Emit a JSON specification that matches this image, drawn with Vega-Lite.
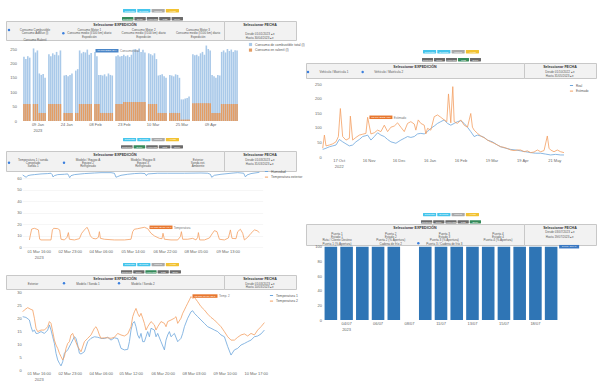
{
"$schema": "https://vega.github.io/schema/vega-lite/v6.json",
"background": "white",
"padding": {"left": 5, "top": 0, "right": 0, "bottom": 0},
"config": {
  "font": "Liberation Sans",
  "view": {"stroke": null},
  "axis": {"labelFontSize": 4, "labelColor": "#666666", "domain": false, "ticks": false, "grid": false, "labelPadding": 1.5, "labelFlush": false},
  "legend": {"labelFontSize": 3.4, "labelColor": "#555555", "symbolSize": 10, "rowPadding": 0.6, "padding": 0, "labelOffset": 2, "symbolStrokeWidth": 1},
  "title": {"fontSize": 3.6, "fontWeight": "bold", "color": "#333333", "anchor": "middle", "frame": "group"}
},
"datasets": {
  "btnP1": [{"r":1,"k":"a","t":"Consultar","c":"cyan"},{"r":1,"k":"b","t":"Exportar","c":"cyan"},{"r":1,"k":"c","t":"Limpiar","c":"lgray"},{"r":1,"k":"d","t":"Ayuda","c":"yellow"},{"r":2,"k":"a","t":"Consumo","c":"green"},{"r":2,"k":"b","t":"Temp.","c":"dgray"},{"r":2,"k":"c","t":"Humedad","c":"dgray"},{"r":2,"k":"d","t":"CO2","c":"dgray"},{"r":2,"k":"e","t":"Ocup.","c":"dgray"}],
  "btnP2": [{"r":1,"k":"a","t":"Consultar","c":"cyan"},{"r":1,"k":"b","t":"Exportar","c":"cyan"},{"r":1,"k":"c","t":"Limpiar","c":"lgray"},{"r":1,"k":"d","t":"Ayuda","c":"yellow"},{"r":2,"k":"a","t":"Consumo","c":"dgray"},{"r":2,"k":"b","t":"Temp.","c":"dgray"},{"r":2,"k":"c","t":"Humedad","c":"dgray"},{"r":2,"k":"d","t":"CO2","c":"green"},{"r":2,"k":"e","t":"Ocup.","c":"dgray"}],
  "btnP3": [{"r":1,"k":"a","t":"Consultar","c":"cyan"},{"r":1,"k":"b","t":"Exportar","c":"cyan"},{"r":1,"k":"c","t":"Limpiar","c":"lgray"},{"r":1,"k":"d","t":"Ayuda","c":"yellow"},{"r":2,"k":"a","t":"Consumo","c":"dgray"},{"r":2,"k":"b","t":"Temp.","c":"green"},{"r":2,"k":"c","t":"Humedad","c":"dgray"},{"r":2,"k":"d","t":"CO2","c":"dgray"},{"r":2,"k":"e","t":"Ocup.","c":"dgray"}],
  "btnP4": [{"r":1,"k":"a","t":"Consultar","c":"cyan"},{"r":1,"k":"b","t":"Exportar","c":"cyan"},{"r":1,"k":"c","t":"Limpiar","c":"lgray"},{"r":1,"k":"d","t":"Ayuda","c":"yellow"},{"r":2,"k":"a","t":"Consumo","c":"dgray"},{"r":2,"k":"b","t":"Temp.","c":"dgray"},{"r":2,"k":"c","t":"Humedad","c":"green"},{"r":2,"k":"d","t":"CO2","c":"dgray"},{"r":2,"k":"e","t":"Ocup.","c":"dgray"}],
  "btnP5": [{"r":1,"k":"a","t":"Consultar","c":"cyan"},{"r":1,"k":"b","t":"Exportar","c":"cyan"},{"r":1,"k":"c","t":"Limpiar","c":"lgray"},{"r":1,"k":"d","t":"Ayuda","c":"yellow"},{"r":2,"k":"a","t":"Consumo","c":"dgray"},{"r":2,"k":"b","t":"Temp.","c":"dgray"},{"r":2,"k":"c","t":"Humedad","c":"dgray"},{"r":2,"k":"d","t":"CO2","c":"dgray"},{"r":2,"k":"e","t":"Ocup.","c":"green"}],
  "p1": [{"i":0,"a":223,"o":59},{"i":1,"a":215,"o":59},{"i":2,"a":225,"o":59},{"i":3,"a":220,"o":59},{"i":5,"a":252,"o":59},{"i":6,"a":238,"o":59},{"i":7,"a":245,"o":59},{"i":8,"a":165,"o":28},{"i":9,"a":160,"o":28},{"i":10,"a":163,"o":28},{"i":11,"a":150,"o":28},{"i":13,"a":232,"o":59},{"i":14,"a":225,"o":59},{"i":15,"a":235,"o":59},{"i":16,"a":230,"o":59},{"i":17,"a":240,"o":59},{"i":18,"a":228,"o":59},{"i":19,"a":245,"o":59},{"i":21,"a":158,"o":28},{"i":22,"a":160,"o":28},{"i":23,"a":155,"o":28},{"i":24,"a":160,"o":28},{"i":25,"a":165,"o":28},{"i":27,"a":175,"o":28},{"i":28,"a":180,"o":28},{"i":29,"a":245,"o":59},{"i":30,"a":235,"o":59},{"i":31,"a":240,"o":59},{"i":32,"a":238,"o":59},{"i":33,"a":248,"o":59},{"i":34,"a":230,"o":59},{"i":35,"a":236,"o":59},{"i":37,"a":240,"o":59},{"i":38,"a":225,"o":59},{"i":39,"a":160,"o":59},{"i":40,"a":160,"o":28},{"i":41,"a":158,"o":28},{"i":42,"a":162,"o":28},{"i":43,"a":155,"o":28},{"i":44,"a":165,"o":28},{"i":45,"a":160,"o":28},{"i":46,"a":158,"o":28},{"i":48,"a":225,"o":59},{"i":49,"a":228,"o":59},{"i":50,"a":224,"o":59},{"i":51,"a":226,"o":59},{"i":52,"a":230,"o":66},{"i":53,"a":225,"o":66},{"i":54,"a":228,"o":66},{"i":55,"a":222,"o":66},{"i":56,"a":230,"o":66},{"i":57,"a":248,"o":66},{"i":58,"a":250,"o":66},{"i":59,"a":245,"o":66},{"i":60,"a":252,"o":66},{"i":61,"a":240,"o":66},{"i":62,"a":247,"o":66},{"i":63,"a":238,"o":66},{"i":65,"a":235,"o":59},{"i":66,"a":232,"o":59},{"i":67,"a":228,"o":59},{"i":68,"a":235,"o":59},{"i":69,"a":215,"o":59},{"i":70,"a":158,"o":28},{"i":71,"a":160,"o":28},{"i":72,"a":162,"o":28},{"i":73,"a":155,"o":28},{"i":74,"a":150,"o":28},{"i":76,"a":160,"o":28},{"i":77,"a":158,"o":28},{"i":78,"a":155,"o":28},{"i":79,"a":162,"o":28},{"i":80,"a":160,"o":28},{"i":81,"a":150,"o":28},{"i":82,"a":75,"o":5},{"i":83,"a":75,"o":5},{"i":84,"a":78,"o":5},{"i":85,"a":80,"o":5},{"i":86,"a":85,"o":5},{"i":88,"a":232,"o":62},{"i":89,"a":228,"o":62},{"i":90,"a":230,"o":62},{"i":91,"a":225,"o":62},{"i":92,"a":235,"o":62},{"i":93,"a":240,"o":62},{"i":94,"a":230,"o":62},{"i":95,"a":262,"o":62},{"i":96,"a":250,"o":62},{"i":97,"a":245,"o":62},{"i":98,"a":160,"o":28},{"i":99,"a":155,"o":28},{"i":100,"a":150,"o":28},{"i":101,"a":160,"o":28},{"i":102,"a":158,"o":28},{"i":103,"a":240,"o":59},{"i":104,"a":245,"o":59},{"i":105,"a":238,"o":59},{"i":106,"a":250,"o":59},{"i":107,"a":243,"o":59},{"i":108,"a":248,"o":59},{"i":109,"a":240,"o":59},{"i":110,"a":246,"o":59},{"i":111,"a":245,"o":59}]
},
"bounds": "flush",
"spacing": 300,
"resolve": {"scale": {"color": "independent"}, "legend": {"color": "independent"}},
"hconcat": [
 {"bounds": "flush", "spacing": 0, "resolve": {"scale": {"color": "independent"}, "legend": {"color": "independent"}}, "vconcat": [
  {"width": 290, "height": 21, "view": {"fill": "white"}, "data": {"name": "btnP1"},
   "layer": [
    {"transform": [{"filter": "datum.r == 1"}], "encoding": {"x": {"field": "k", "type": "nominal", "sort": null, "scale": {"type": "band", "range": [117, 173], "paddingInner": 0.08, "paddingOuter": 0}, "axis": null}, "y": {"field": "r", "type": "ordinal", "scale": {"type": "band", "domain": [1, 2], "range": [9, 20.5], "paddingInner": 0.56, "paddingOuter": 0}, "axis": null}},
     "layer": [
      {"mark": {"type": "rect", "cornerRadius": 0.4}, "encoding": {"color": {"field": "c", "type": "nominal", "scale": {"domain": ["cyan","lgray","yellow","green","dgray"], "range": ["#45c5ec","#a9a9a9","#f2c232","#358a5a","#6b6b6b"]}, "legend": null}}},
      {"mark": {"type": "text", "fontSize": 2.4, "color": "white", "limit": 13}, "encoding": {"text": {"field": "t"}}}
     ]},
    {"transform": [{"filter": "datum.r == 2"}], "encoding": {"x": {"field": "k", "type": "nominal", "sort": null, "scale": {"type": "band", "range": [116, 177], "paddingInner": 0.08, "paddingOuter": 0}, "axis": null}, "y": {"field": "r", "type": "ordinal", "scale": {"type": "band", "domain": [1, 2], "range": [9, 20.5], "paddingInner": 0.56, "paddingOuter": 0}, "axis": null}},
     "layer": [
      {"mark": {"type": "rect", "cornerRadius": 0.4}, "encoding": {"color": {"field": "c", "type": "nominal", "scale": {"domain": ["cyan","lgray","yellow","green","dgray"], "range": ["#45c5ec","#a9a9a9","#f2c232","#358a5a","#6b6b6b"]}, "legend": null}}},
      {"mark": {"type": "text", "fontSize": 2.4, "color": "white", "limit": 11}, "encoding": {"text": {"field": "t"}}}
     ]}
   ],
   "resolve": {"scale": {"x": "independent"}}},
  {"bounds": "flush", "spacing": 0, "hconcat": [
   {"width": 218, "height": 19, "view": {"fill": "#f2f2f2", "stroke": "#c8c8c8"}, "title": {"text": "Seleccionar EXPEDICIÓN", "offset": -5.5},
    "data": {"values": [{"c":0,"r":0,"t":"Consumo Combustible","dot":true},{"c":0,"r":1,"t":"Consumo AdBlue (l)"},{"c":0,"r":3,"t":"Consumo Ralentí"},{"c":1,"r":0,"t":"Consumo Motor 1"},{"c":1,"r":1,"t":"Consumo medio (l/100 km) diario","dot":true},{"c":1,"r":2,"t":"Expedición"},{"c":2,"r":0,"t":"Consumo Motor 2"},{"c":2,"r":1,"t":"Consumo medio (l/100 km) diario"},{"c":2,"r":2,"t":"Expedición"},{"c":3,"r":0,"t":"Consumo Motor 3"},{"c":3,"r":1,"t":"Consumo medio (l/100 km) diario"},{"c":3,"r":2,"t":"Expedición"}]},
    "encoding": {"x": {"field": "c", "type": "ordinal", "scale": {"type": "point", "domain": [0,1,2,3], "range": [29, 192], "padding": 0}, "axis": null}, "y": {"field": "r", "type": "ordinal", "scale": {"type": "point", "domain": [0,1,2,3], "range": [9, 18.6], "padding": 0}, "axis": null}},
    "layer": [
     {"mark": {"type": "text", "fontSize": 3, "color": "#555555"}, "encoding": {"text": {"field": "t"}}},
     {"transform": [{"filter": "datum.dot"}], "mark": {"type": "circle", "size": 6, "opacity": 1, "color": "#3b7fdd", "xOffset": -26}}
    ]},
   {"width": 72, "height": 19, "view": {"fill": "#f2f2f2", "stroke": "#c8c8c8"}, "title": {"text": "Seleccionar FECHA", "offset": -5.5},
    "data": {"values": [{"k":"a","r":0,"t":"Desde  01/01/2023  ▴▾"},{"k":"a","r":1,"t":"Hasta  30/04/2023  ▴▾"}]},
    "mark": {"type": "text", "fontSize": 3, "color": "#555555"},
    "encoding": {"x": {"field": "k", "type": "nominal", "scale": {"type": "point"}, "axis": null}, "y": {"field": "r", "type": "ordinal", "scale": {"type": "point", "domain": [0,1], "range": [12.3, 16.3], "padding": 0}, "axis": null}, "text": {"field": "t"}}}
  ]},
  {"width": 1, "height": 20, "data": {"values": []}, "mark": "point"},
  {"width": 290, "height": 80, "data": {"name": "p1"},
   "encoding": {"x": {"field": "i", "type": "quantitative", "title": null, "scale": {"domain": [-0.5, 111.5], "range": [12, 237], "nice": false, "zero": false}, "axis": {"values": [7,22,37,52,67,82,97], "labelExpr": "datum.value == 7 ? [timeFormat(datetime(2023,0,2+datum.value),'%d %b'), '2023'] : timeFormat(datetime(2023,0,2+datum.value),'%d %b')"}},
     "y": {"field": "value", "type": "quantitative", "title": null, "stack": null, "scale": {"domain": [0, 250], "range": [80, 8], "nice": false}, "axis": {"values": [0,50,100,150,200,250], "offset": -12}}},
   "layer": [
    {"transform": [{"fold": ["a", "o"]}], "mark": {"type": "bar", "width": 1.6},
     "encoding": {"color": {"field": "key", "type": "nominal", "scale": {"domain": ["a","o"], "range": ["#a9c9e9","#e39d65"]}, "legend": {"orient": "none", "legendX": 242, "legendY": 1, "title": null, "symbolType": "square", "labelExpr": "datum.label == 'a' ? 'Consumo de combustible total (l)' : 'Consumo en ralentí (l)'"}}}},
    {"data": {"values": [{"i": 37, "value": 244}]}, "layer": [
     {"mark": {"type": "tick", "orient": "horizontal", "size": 23, "thickness": 3.5, "color": "#4a86c8", "opacity": 1, "xOffset": 12}},
     {"mark": {"type": "text", "fontSize": 2.5, "color": "white", "dx": 12}, "encoding": {"text": {"value": "06 feb 2023: 244"}}},
     {"mark": {"type": "text", "fontSize": 3, "color": "#777777", "align": "left", "dx": 25}, "encoding": {"text": {"value": "Consumo total"}}}
    ]}
   ]},
  {"width": 290, "height": 30, "data": {"name": "btnP3"},
   "layer": [
    {"transform": [{"filter": "datum.r == 1"}], "encoding": {"x": {"field": "k", "type": "nominal", "sort": null, "scale": {"type": "band", "range": [117, 173], "paddingInner": 0.08, "paddingOuter": 0}, "axis": null}, "y": {"field": "r", "type": "ordinal", "scale": {"type": "band", "domain": [1, 2], "range": [17, 27.5], "paddingInner": 0.56, "paddingOuter": 0}, "axis": null}},
     "layer": [
      {"mark": {"type": "rect", "cornerRadius": 0.4}, "encoding": {"color": {"field": "c", "type": "nominal", "scale": {"domain": ["cyan","lgray","yellow","green","dgray"], "range": ["#45c5ec","#a9a9a9","#f2c232","#358a5a","#6b6b6b"]}, "legend": null}}},
      {"mark": {"type": "text", "fontSize": 2.4, "color": "white", "limit": 13}, "encoding": {"text": {"field": "t"}}}
     ]},
    {"transform": [{"filter": "datum.r == 2"}], "encoding": {"x": {"field": "k", "type": "nominal", "sort": null, "scale": {"type": "band", "range": [115, 177], "paddingInner": 0.08, "paddingOuter": 0}, "axis": null}, "y": {"field": "r", "type": "ordinal", "scale": {"type": "band", "domain": [1, 2], "range": [17, 27.5], "paddingInner": 0.56, "paddingOuter": 0}, "axis": null}},
     "layer": [
      {"mark": {"type": "rect", "cornerRadius": 0.4}, "encoding": {"color": {"field": "c", "type": "nominal", "scale": {"domain": ["cyan","lgray","yellow","green","dgray"], "range": ["#45c5ec","#a9a9a9","#f2c232","#358a5a","#6b6b6b"]}, "legend": null}}},
      {"mark": {"type": "text", "fontSize": 2.4, "color": "white", "limit": 11}, "encoding": {"text": {"field": "t"}}}
     ]}
   ],
   "resolve": {"scale": {"x": "independent"}}},
  {"bounds": "flush", "spacing": 0, "hconcat": [
   {"width": 218, "height": 20, "view": {"fill": "#f2f2f2", "stroke": "#c8c8c8"}, "title": {"text": "Seleccionar EXPEDICIÓN", "offset": -5.5},
    "data": {"values": [{"c":0,"r":0,"t":"Temperatura 1 / sonda"},{"c":0,"r":1,"t":"Congelado","dot":true},{"c":0,"r":2,"t":"Sonda 1"},{"c":1,"r":0,"t":"Modelo / Equipo A"},{"c":1,"r":1,"t":"Equipo 2","dot":true},{"c":1,"r":2,"t":"Refrigerado"},{"c":2,"r":0,"t":"Modelo / Equipo B"},{"c":2,"r":1,"t":"Equipo 3"},{"c":2,"r":2,"t":"Refrigerado"},{"c":3,"r":0,"t":"Exterior"},{"c":3,"r":1,"t":"Sonda ext."},{"c":3,"r":2,"t":"Ambiente"}]},
    "encoding": {"x": {"field": "c", "type": "ordinal", "scale": {"type": "point", "domain": [0,1,2,3], "range": [27, 192], "padding": 0}, "axis": null}, "y": {"field": "r", "type": "ordinal", "scale": {"type": "point", "domain": [0,1,2,3], "range": [8.3, 18.5], "padding": 0}, "axis": null}},
    "layer": [
     {"mark": {"type": "text", "fontSize": 3, "color": "#555555"}, "encoding": {"text": {"field": "t"}}},
     {"transform": [{"filter": "datum.dot"}], "mark": {"type": "circle", "size": 6, "opacity": 1, "color": "#3b7fdd", "xOffset": -24}}
    ]},
   {"width": 72, "height": 20, "view": {"fill": "#f2f2f2", "stroke": "#c8c8c8"}, "title": {"text": "Seleccionar FECHA", "offset": -5.5},
    "data": {"values": [{"k":"a","r":0,"t":"Desde  01/03/2023  ▴▾"},{"k":"a","r":1,"t":"Hasta  31/03/2023  ▴▾"}]},
    "mark": {"type": "text", "fontSize": 3, "color": "#555555"},
    "encoding": {"x": {"field": "k", "type": "nominal", "scale": {"type": "point"}, "axis": null}, "y": {"field": "r", "type": "ordinal", "scale": {"type": "point", "domain": [0,1], "range": [8.7, 12.7], "padding": 0}, "axis": null}, "text": {"field": "t"}}}
  ]},
  {"width": 1, "height": 20, "data": {"values": []}, "mark": "point"},
  {"width": 290, "height": 77,
   "encoding": {"x": {"field": "t", "type": "quantitative", "title": null, "scale": {"domain": [0, 240], "range": [16.7, 256.7], "nice": false, "zero": false}, "axis": {"values": [16,47,78,110,142,173,205], "labelExpr": "datum.value == 16 ? [timeFormat(datetime(2023,2,1,datum.value),'%d %b %H:%M'), '2023'] : timeFormat(datetime(2023,2,1,datum.value),'%d %b %H:%M')"}},
     "y": {"field": "v", "type": "quantitative", "title": null, "scale": {"domain": [0, 60], "range": [76.3, 7.3], "nice": false}, "axis": {"values": [0,10,20,30,40,50,60], "offset": -16.7, "grid": true, "gridColor": "#ececec", "gridWidth": 0.5}}},
   "layer": [
    {"data": {"values": [
      {"s":"a","t":0,"v":62.9},{"s":"a","t":2.3,"v":61.5},{"s":"a","t":3.7,"v":60.9},{"s":"a","t":5,"v":62.3},{"s":"a","t":8.3,"v":62.9},{"s":"a","t":11.7,"v":63.2},{"s":"a","t":18.3,"v":63.8},{"s":"a","t":25,"v":64.1},{"s":"a","t":28.3,"v":64.4},{"s":"a","t":29.3,"v":63.5},{"s":"a","t":30.3,"v":61.2},{"s":"a","t":31.7,"v":62.3},{"s":"a","t":35,"v":63.2},{"s":"a","t":41.7,"v":63.5},{"s":"a","t":45,"v":63.8},{"s":"a","t":46,"v":62.3},{"s":"a","t":47,"v":60.6},{"s":"a","t":48.3,"v":62.3},{"s":"a","t":51.7,"v":63.2},{"s":"a","t":61.7,"v":64.1},{"s":"a","t":71.7,"v":64.6},{"s":"a","t":78.3,"v":64.9},{"s":"a","t":88.3,"v":64.9},{"s":"a","t":91.7,"v":64.4},{"s":"a","t":93.3,"v":60.9},{"s":"a","t":95,"v":61.5},{"s":"a","t":98.3,"v":62.6},{"s":"a","t":105,"v":63.5},{"s":"a","t":111.7,"v":64.1},{"s":"a","t":118.3,"v":64.4},{"s":"a","t":122.3,"v":64.1},{"s":"a","t":123.7,"v":62.3},{"s":"a","t":125,"v":63.8},{"s":"a","t":135,"v":64.4},{"s":"a","t":145,"v":64.4},{"s":"a","t":161.7,"v":64.4},{"s":"a","t":178.3,"v":64.6},{"s":"a","t":185,"v":64.4},{"s":"a","t":187.7,"v":63.5},{"s":"a","t":189,"v":60.9},{"s":"a","t":191.7,"v":62.6},{"s":"a","t":198.3,"v":63.5},{"s":"a","t":208.3,"v":64.4},{"s":"a","t":215,"v":64.9},{"s":"a","t":221,"v":64.4},{"s":"a","t":222.7,"v":61.2},{"s":"a","t":224.3,"v":62.9},{"s":"a","t":228.3,"v":64.1},{"s":"a","t":236.7,"v":65.2},
      {"s":"b","t":6.7,"v":6.4},{"s":"b","t":7.7,"v":10.7},{"s":"b","t":9,"v":15.9},{"s":"b","t":11.7,"v":16.5},{"s":"b","t":14.3,"v":15.7},{"s":"b","t":15.7,"v":15.1},{"s":"b","t":17,"v":7},{"s":"b","t":18.3,"v":6.4},{"s":"b","t":28.3,"v":6.4},{"s":"b","t":29.7,"v":15.1},{"s":"b","t":31,"v":16.5},{"s":"b","t":35,"v":16.2},{"s":"b","t":37,"v":15.1},{"s":"b","t":38.3,"v":7},{"s":"b","t":41.7,"v":6.4},{"s":"b","t":44.3,"v":8.7},{"s":"b","t":45.7,"v":12.8},{"s":"b","t":46.7,"v":7},{"s":"b","t":51.7,"v":6.4},{"s":"b","t":56.7,"v":7.5},{"s":"b","t":59,"v":12.2},{"s":"b","t":61.7,"v":15.1},{"s":"b","t":64.3,"v":17.4},{"s":"b","t":65.7,"v":15.1},{"s":"b","t":67.7,"v":9.9},{"s":"b","t":70,"v":7.8},{"s":"b","t":73.3,"v":7.3},{"s":"b","t":75.7,"v":8.7},{"s":"b","t":76.7,"v":13.6},{"s":"b","t":77.7,"v":7.8},{"s":"b","t":81.7,"v":7},{"s":"b","t":91.7,"v":6.4},{"s":"b","t":101.7,"v":6.4},{"s":"b","t":108.3,"v":7},{"s":"b","t":110,"v":13.6},{"s":"b","t":111.7,"v":15.7},{"s":"b","t":115,"v":16.2},{"s":"b","t":118.3,"v":16.8},{"s":"b","t":121.7,"v":17.4},{"s":"b","t":125,"v":16.2},{"s":"b","t":128.3,"v":12.2},{"s":"b","t":131.7,"v":9.9},{"s":"b","t":136.7,"v":7.8},{"s":"b","t":139.3,"v":7.5},{"s":"b","t":140.3,"v":12.2},{"s":"b","t":141.7,"v":7},{"s":"b","t":148.3,"v":6.4},{"s":"b","t":155,"v":6.4},{"s":"b","t":157.7,"v":9.3},{"s":"b","t":158.7,"v":13.6},{"s":"b","t":160,"v":7},{"s":"b","t":165,"v":7},{"s":"b","t":170,"v":7.8},{"s":"b","t":173.3,"v":6.4},{"s":"b","t":175,"v":8.7},{"s":"b","t":175.7,"v":12.8},{"s":"b","t":177,"v":6.4},{"s":"b","t":181.7,"v":6.4},{"s":"b","t":186.7,"v":8.1},{"s":"b","t":189.3,"v":11.6},{"s":"b","t":191.7,"v":14.5},{"s":"b","t":194.3,"v":13.6},{"s":"b","t":196.7,"v":7},{"s":"b","t":201.7,"v":6.4},{"s":"b","t":205.7,"v":8.1},{"s":"b","t":207.7,"v":15.1},{"s":"b","t":209.3,"v":7.8},{"s":"b","t":213.3,"v":7.5},{"s":"b","t":215,"v":13.6},{"s":"b","t":217.7,"v":15.7},{"s":"b","t":220,"v":12.2},{"s":"b","t":221.7,"v":6.4},{"s":"b","t":225,"v":8.7},{"s":"b","t":228.3,"v":12.2},{"s":"b","t":231.7,"v":15.1},{"s":"b","t":234.3,"v":14.5},{"s":"b","t":236.7,"v":12.8}
     ]},
     "mark": {"type": "line", "strokeWidth": 0.8},
     "encoding": {"color": {"field": "s", "type": "nominal", "scale": {"domain": ["a","b"], "range": ["#6ca6dc","#f4a062"]}, "legend": {"orient": "none", "legendX": 258, "legendY": -2, "title": null, "labelExpr": "datum.label == 'a' ? 'Humedad' : 'Temperatura exterior'"}}}},
    {"data": {"values": [{"t": 125, "v": 17.4}]}, "layer": [
     {"mark": {"type": "tick", "orient": "horizontal", "size": 23, "thickness": 3.5, "color": "#e8772e", "opacity": 1, "xOffset": 13.3}},
     {"mark": {"type": "text", "fontSize": 2.5, "color": "white", "dx": 13.3}, "encoding": {"text": {"value": "06 mar 05:00: 17,4"}}},
     {"mark": {"type": "text", "fontSize": 3, "color": "#777777", "align": "left", "dx": 26}, "encoding": {"text": {"value": "Temperatura"}}}
    ]}
   ]},
  {"width": 290, "height": 27, "data": {"name": "btnP4"},
   "layer": [
    {"transform": [{"filter": "datum.r == 1"}], "encoding": {"x": {"field": "k", "type": "nominal", "sort": null, "scale": {"type": "band", "range": [117, 173], "paddingInner": 0.08, "paddingOuter": 0}, "axis": null}, "y": {"field": "r", "type": "ordinal", "scale": {"type": "band", "domain": [1, 2], "range": [15, 25.5], "paddingInner": 0.56, "paddingOuter": 0}, "axis": null}},
     "layer": [
      {"mark": {"type": "rect", "cornerRadius": 0.4}, "encoding": {"color": {"field": "c", "type": "nominal", "scale": {"domain": ["cyan","lgray","yellow","green","dgray"], "range": ["#45c5ec","#a9a9a9","#f2c232","#358a5a","#6b6b6b"]}, "legend": null}}},
      {"mark": {"type": "text", "fontSize": 2.4, "color": "white", "limit": 13}, "encoding": {"text": {"field": "t"}}}
     ]},
    {"transform": [{"filter": "datum.r == 2"}], "encoding": {"x": {"field": "k", "type": "nominal", "sort": null, "scale": {"type": "band", "range": [115, 175], "paddingInner": 0.08, "paddingOuter": 0}, "axis": null}, "y": {"field": "r", "type": "ordinal", "scale": {"type": "band", "domain": [1, 2], "range": [15, 25.5], "paddingInner": 0.56, "paddingOuter": 0}, "axis": null}},
     "layer": [
      {"mark": {"type": "rect", "cornerRadius": 0.4}, "encoding": {"color": {"field": "c", "type": "nominal", "scale": {"domain": ["cyan","lgray","yellow","green","dgray"], "range": ["#45c5ec","#a9a9a9","#f2c232","#358a5a","#6b6b6b"]}, "legend": null}}},
      {"mark": {"type": "text", "fontSize": 2.4, "color": "white", "limit": 11}, "encoding": {"text": {"field": "t"}}}
     ]}
   ],
   "resolve": {"scale": {"x": "independent"}}},
  {"bounds": "flush", "spacing": 0, "hconcat": [
   {"width": 218, "height": 14, "view": {"fill": "#f2f2f2", "stroke": "#c8c8c8"}, "title": {"text": "Seleccionar EXPEDICIÓN", "offset": -5.5},
    "data": {"values": [{"c":0,"r":0,"t":"Exterior"},{"c":1,"r":0,"t":"Modelo / Sonda 1","dot":true},{"c":2,"r":0,"t":"Modelo / Sonda 2","dot":true}]},
    "encoding": {"x": {"field": "c", "type": "ordinal", "scale": {"type": "point", "domain": [0,1,2,3], "range": [27, 192], "padding": 0}, "axis": null}, "y": {"field": "r", "type": "ordinal", "scale": {"type": "point", "domain": [0,1], "range": [8.3, 12], "padding": 0}, "axis": null}},
    "layer": [
     {"mark": {"type": "text", "fontSize": 3, "color": "#555555"}, "encoding": {"text": {"field": "t"}}},
     {"transform": [{"filter": "datum.dot"}], "mark": {"type": "circle", "size": 6, "opacity": 1, "color": "#3b7fdd", "xOffset": -24}}
    ]},
   {"width": 72, "height": 14, "view": {"fill": "#f2f2f2", "stroke": "#c8c8c8"}, "title": {"text": "Seleccionar FECHA", "offset": -5.5},
    "data": {"values": [{"k":"a","r":0,"t":"Desde  01/03/2023  ▴▾"},{"k":"a","r":1,"t":"Hasta  10/03/2023  ▴▾"}]},
    "mark": {"type": "text", "fontSize": 3, "color": "#555555"},
    "encoding": {"x": {"field": "k", "type": "nominal", "scale": {"type": "point"}, "axis": null}, "y": {"field": "r", "type": "ordinal", "scale": {"type": "point", "domain": [0,1], "range": [8.3, 11.7], "padding": 0}, "axis": null}, "text": {"field": "t"}}}
  ]},
  {"width": 1, "height": 14, "data": {"values": []}, "mark": "point"},
  {"width": 290, "height": 81,
   "encoding": {"x": {"field": "t", "type": "quantitative", "title": null, "scale": {"domain": [0, 242], "range": [16.7, 258.7], "nice": false, "zero": false}, "axis": {"values": [16,47,78,108,140,171,202,233], "labelExpr": "datum.value == 16 ? [timeFormat(datetime(2023,2,1,datum.value),'%d %b %H:%M'), '2023'] : timeFormat(datetime(2023,2,1,datum.value),'%d %b %H:%M')"}},
     "y": {"field": "v", "type": "quantitative", "title": null, "scale": {"domain": [0, 30], "range": [81, 3.7], "nice": false}, "axis": {"values": [0,5,10,15,20,25,30], "offset": -16.7}}},
   "layer": [
    {"data": {"values": [
      {"s":"a","t":0,"v":20.7},{"s":"a","t":3.3,"v":20.4},{"s":"a","t":6.7,"v":19.4},{"s":"a","t":8.3,"v":16.8},{"s":"a","t":10,"v":14.9},{"s":"a","t":11.7,"v":15.5},{"s":"a","t":13.3,"v":14.2},{"s":"a","t":15,"v":14.2},{"s":"a","t":18.3,"v":14.9},{"s":"a","t":21.7,"v":14.2},{"s":"a","t":25,"v":15.5},{"s":"a","t":26.7,"v":17.5},{"s":"a","t":28.3,"v":15.5},{"s":"a","t":30,"v":12.9},{"s":"a","t":31.7,"v":10.3},{"s":"a","t":33.3,"v":6.5},{"s":"a","t":35,"v":3.9},{"s":"a","t":36.7,"v":2.6},{"s":"a","t":38.3,"v":1.6},{"s":"a","t":40,"v":3.2},{"s":"a","t":41.7,"v":6.5},{"s":"a","t":45,"v":7.8},{"s":"a","t":48.3,"v":10.3},{"s":"a","t":51.7,"v":12.9},{"s":"a","t":53.3,"v":12.3},{"s":"a","t":55,"v":9.7},{"s":"a","t":56.7,"v":6.5},{"s":"a","t":58.3,"v":6.2},{"s":"a","t":61.7,"v":7.1},{"s":"a","t":63.3,"v":9.1},{"s":"a","t":65,"v":11},{"s":"a","t":68.3,"v":12.3},{"s":"a","t":71.7,"v":12.9},{"s":"a","t":75,"v":12.7},{"s":"a","t":78.3,"v":12.3},{"s":"a","t":81.7,"v":12.2},{"s":"a","t":85,"v":12.7},{"s":"a","t":88.3,"v":11.6},{"s":"a","t":91.7,"v":12.5},{"s":"a","t":95,"v":12.2},{"s":"a","t":96.7,"v":10.3},{"s":"a","t":98.3,"v":8.4},{"s":"a","t":101.7,"v":7.8},{"s":"a","t":105,"v":8},{"s":"a","t":106.7,"v":11},{"s":"a","t":108.3,"v":15.5},{"s":"a","t":110,"v":18.1},{"s":"a","t":111.7,"v":18.8},{"s":"a","t":113.3,"v":16.8},{"s":"a","t":115,"v":13.6},{"s":"a","t":116.7,"v":12.3},{"s":"a","t":118.3,"v":14.2},{"s":"a","t":120,"v":11},{"s":"a","t":121.7,"v":11},{"s":"a","t":123.3,"v":12.9},{"s":"a","t":125,"v":14.9},{"s":"a","t":126.7,"v":12.9},{"s":"a","t":128.3,"v":16.2},{"s":"a","t":131.7,"v":15.5},{"s":"a","t":133.3,"v":12.9},{"s":"a","t":135,"v":14.2},{"s":"a","t":138.3,"v":11},{"s":"a","t":141.7,"v":7.8},{"s":"a","t":143.3,"v":11.6},{"s":"a","t":145,"v":13.6},{"s":"a","t":146.7,"v":14.9},{"s":"a","t":148.3,"v":12.9},{"s":"a","t":151.7,"v":14.2},{"s":"a","t":155,"v":11},{"s":"a","t":158.3,"v":12.3},{"s":"a","t":160,"v":14.2},{"s":"a","t":161.7,"v":16.8},{"s":"a","t":165,"v":20.1},{"s":"a","t":168.3,"v":22.6},{"s":"a","t":170,"v":23},{"s":"a","t":171.7,"v":22},{"s":"a","t":175,"v":20.7},{"s":"a","t":178.3,"v":19.4},{"s":"a","t":181.7,"v":18.1},{"s":"a","t":185,"v":16.8},{"s":"a","t":188.3,"v":16.2},{"s":"a","t":191.7,"v":15.5},{"s":"a","t":195,"v":14.9},{"s":"a","t":198.3,"v":13.6},{"s":"a","t":201.7,"v":12.9},{"s":"a","t":205,"v":9.1},{"s":"a","t":208.3,"v":5.8},{"s":"a","t":211.7,"v":7.8},{"s":"a","t":215,"v":8.4},{"s":"a","t":218.3,"v":9.7},{"s":"a","t":221.7,"v":10.3},{"s":"a","t":225,"v":11},{"s":"a","t":228.3,"v":11.6},{"s":"a","t":231.7,"v":12.9},{"s":"a","t":235,"v":13.2},{"s":"a","t":238.3,"v":14},{"s":"a","t":241.7,"v":15.5},
      {"s":"b","t":0,"v":22.6},{"s":"b","t":1.7,"v":23.3},{"s":"b","t":5,"v":24.2},{"s":"b","t":8.3,"v":23.5},{"s":"b","t":10,"v":23.3},{"s":"b","t":11.7,"v":20.1},{"s":"b","t":13.3,"v":16.2},{"s":"b","t":15,"v":14.9},{"s":"b","t":18.3,"v":15.5},{"s":"b","t":21.7,"v":15.5},{"s":"b","t":25,"v":16.8},{"s":"b","t":26.7,"v":18.8},{"s":"b","t":28.3,"v":18.1},{"s":"b","t":30,"v":14.9},{"s":"b","t":31.7,"v":11.6},{"s":"b","t":33.3,"v":9.7},{"s":"b","t":35,"v":8.4},{"s":"b","t":36.7,"v":6.5},{"s":"b","t":38.3,"v":5.2},{"s":"b","t":40,"v":3.9},{"s":"b","t":41.7,"v":5.2},{"s":"b","t":43.3,"v":8.4},{"s":"b","t":45,"v":10.3},{"s":"b","t":46.7,"v":11},{"s":"b","t":48.3,"v":13.6},{"s":"b","t":50,"v":14.2},{"s":"b","t":51.7,"v":12.3},{"s":"b","t":55,"v":9.1},{"s":"b","t":58.3,"v":7.1},{"s":"b","t":61.7,"v":11},{"s":"b","t":65,"v":12.3},{"s":"b","t":68.3,"v":13.6},{"s":"b","t":71.7,"v":16.2},{"s":"b","t":73.3,"v":16.8},{"s":"b","t":75,"v":15.5},{"s":"b","t":76.7,"v":13.6},{"s":"b","t":78.3,"v":12.3},{"s":"b","t":81.7,"v":12.5},{"s":"b","t":85,"v":12.5},{"s":"b","t":88.3,"v":12.3},{"s":"b","t":91.7,"v":12.7},{"s":"b","t":95,"v":14.2},{"s":"b","t":98.3,"v":13.6},{"s":"b","t":101.7,"v":13.2},{"s":"b","t":105,"v":14},{"s":"b","t":108.3,"v":16.8},{"s":"b","t":110,"v":20.7},{"s":"b","t":111.7,"v":22.6},{"s":"b","t":113.3,"v":23.9},{"s":"b","t":115,"v":22},{"s":"b","t":116.7,"v":20.7},{"s":"b","t":118.3,"v":22},{"s":"b","t":120,"v":20.1},{"s":"b","t":121.7,"v":18.1},{"s":"b","t":123.3,"v":15.5},{"s":"b","t":125,"v":16.8},{"s":"b","t":128.3,"v":18.8},{"s":"b","t":131.7,"v":17.5},{"s":"b","t":133.3,"v":15.5},{"s":"b","t":135,"v":16.8},{"s":"b","t":138.3,"v":18.8},{"s":"b","t":141.7,"v":18.1},{"s":"b","t":143.3,"v":16.8},{"s":"b","t":145,"v":18.8},{"s":"b","t":148.3,"v":19.4},{"s":"b","t":151.7,"v":20.1},{"s":"b","t":153.3,"v":20.7},{"s":"b","t":155,"v":18.1},{"s":"b","t":158.3,"v":20.1},{"s":"b","t":160,"v":22},{"s":"b","t":161.7,"v":23.3},{"s":"b","t":163.3,"v":24.6},{"s":"b","t":165,"v":25.9},{"s":"b","t":166.7,"v":27.2},{"s":"b","t":168.3,"v":28.5},{"s":"b","t":170,"v":27.8},{"s":"b","t":171.7,"v":28.2},{"s":"b","t":175,"v":26.5},{"s":"b","t":178.3,"v":24.6},{"s":"b","t":181.7,"v":23.3},{"s":"b","t":185,"v":21.7},{"s":"b","t":188.3,"v":20.4},{"s":"b","t":191.7,"v":19.4},{"s":"b","t":195,"v":18.1},{"s":"b","t":198.3,"v":16.8},{"s":"b","t":201.7,"v":14.9},{"s":"b","t":205,"v":12.9},{"s":"b","t":208.3,"v":11.6},{"s":"b","t":211.7,"v":11.6},{"s":"b","t":215,"v":12.7},{"s":"b","t":218.3,"v":13.6},{"s":"b","t":221.7,"v":14},{"s":"b","t":225,"v":13.2},{"s":"b","t":228.3,"v":14.2},{"s":"b","t":231.7,"v":13.6},{"s":"b","t":235,"v":15.5},{"s":"b","t":238.3,"v":16.8},{"s":"b","t":241.7,"v":18.4}
     ]},
     "mark": {"type": "line", "strokeWidth": 0.8},
     "encoding": {"color": {"field": "s", "type": "nominal", "scale": {"domain": ["a","b"], "range": ["#6ca6dc","#f4a062"]}, "legend": {"orient": "none", "legendX": 263, "legendY": 4, "title": null, "labelExpr": "datum.label == 'a' ? 'Temperatura 1' : 'Temperatura 2'"}}}},
    {"data": {"values": [{"t": 168.3, "v": 28.7}]}, "layer": [
     {"mark": {"type": "tick", "orient": "horizontal", "size": 25, "thickness": 3.5, "color": "#e8772e", "opacity": 1, "xOffset": 14}},
     {"mark": {"type": "text", "fontSize": 2.5, "color": "white", "dx": 14}, "encoding": {"text": {"value": "08 mar 00:00: 28,7"}}},
     {"mark": {"type": "text", "fontSize": 3, "color": "#777777", "align": "left", "dx": 28}, "encoding": {"text": {"value": "Temp. 2"}}}
    ]}
   ]}
 ]},
 {"bounds": "flush", "spacing": 0, "resolve": {"scale": {"color": "independent"}, "legend": {"color": "independent"}}, "vconcat": [
  {"width": 1, "height": 49, "data": {"values": []}, "mark": "point"},
  {"width": 290, "height": 14, "data": {"name": "btnP2"},
   "layer": [
    {"transform": [{"filter": "datum.r == 1"}], "encoding": {"x": {"field": "k", "type": "nominal", "sort": null, "scale": {"type": "band", "range": [117, 173], "paddingInner": 0.08, "paddingOuter": 0}, "axis": null}, "y": {"field": "r", "type": "ordinal", "scale": {"type": "band", "domain": [1, 2], "range": [1, 12.5], "paddingInner": 0.56, "paddingOuter": 0}, "axis": null}},
     "layer": [
      {"mark": {"type": "rect", "cornerRadius": 0.4}, "encoding": {"color": {"field": "c", "type": "nominal", "scale": {"domain": ["cyan","lgray","yellow","green","dgray"], "range": ["#45c5ec","#a9a9a9","#f2c232","#358a5a","#6b6b6b"]}, "legend": null}}},
      {"mark": {"type": "text", "fontSize": 2.4, "color": "white", "limit": 13}, "encoding": {"text": {"field": "t"}}}
     ]},
    {"transform": [{"filter": "datum.r == 2"}], "encoding": {"x": {"field": "k", "type": "nominal", "sort": null, "scale": {"type": "band", "range": [116, 175], "paddingInner": 0.08, "paddingOuter": 0}, "axis": null}, "y": {"field": "r", "type": "ordinal", "scale": {"type": "band", "domain": [1, 2], "range": [1, 12.5], "paddingInner": 0.56, "paddingOuter": 0}, "axis": null}},
     "layer": [
      {"mark": {"type": "rect", "cornerRadius": 0.4}, "encoding": {"color": {"field": "c", "type": "nominal", "scale": {"domain": ["cyan","lgray","yellow","green","dgray"], "range": ["#45c5ec","#a9a9a9","#f2c232","#358a5a","#6b6b6b"]}, "legend": null}}},
      {"mark": {"type": "text", "fontSize": 2.4, "color": "white", "limit": 11}, "encoding": {"text": {"field": "t"}}}
     ]}
   ],
   "resolve": {"scale": {"x": "independent"}}},
  {"bounds": "flush", "spacing": 0, "hconcat": [
   {"width": 218, "height": 15, "view": {"fill": "#f2f2f2", "stroke": "#c8c8c8"}, "title": {"text": "Seleccionar EXPEDICIÓN", "offset": -5.5},
    "data": {"values": [{"c":0,"r":0,"t":"Vehículo / Matrícula 1","dot":true},{"c":1,"r":0,"t":"Vehículo / Matrícula 2","dot":true}]},
    "encoding": {"x": {"field": "c", "type": "ordinal", "scale": {"type": "point", "domain": [0,1,2,3], "range": [28, 192], "padding": 0}, "axis": null}, "y": {"field": "r", "type": "ordinal", "scale": {"type": "point", "domain": [0,1], "range": [9, 12], "padding": 0}, "axis": null}},
    "layer": [
     {"mark": {"type": "text", "fontSize": 3, "color": "#555555"}, "encoding": {"text": {"field": "t"}}},
     {"transform": [{"filter": "datum.dot"}], "mark": {"type": "circle", "size": 6, "opacity": 1, "color": "#3b7fdd", "xOffset": -26}}
    ]},
   {"width": 72, "height": 15, "view": {"fill": "#f2f2f2", "stroke": "#c8c8c8"}, "title": {"text": "Seleccionar FECHA", "offset": -5.5},
    "data": {"values": [{"k":"a","r":0,"t":"Desde  01/10/2022  ▴▾"},{"k":"a","r":1,"t":"Hasta  31/05/2023  ▴▾"}]},
    "mark": {"type": "text", "fontSize": 3, "color": "#555555"},
    "encoding": {"x": {"field": "k", "type": "nominal", "scale": {"type": "point"}, "axis": null}, "y": {"field": "r", "type": "ordinal", "scale": {"type": "point", "domain": [0,1], "range": [8.7, 12.7], "padding": 0}, "axis": null}, "text": {"field": "t"}}}
  ]},
  {"width": 1, "height": 15, "data": {"values": []}, "mark": "point"},
  {"width": 290, "height": 79,
   "encoding": {"x": {"field": "t", "type": "quantitative", "title": null, "scale": {"domain": [0, 242], "range": [16.7, 258.3], "nice": false, "zero": false}, "axis": {"values": [16,46,76,107,138,169,200,232], "labelExpr": "datum.value == 16 ? [timeFormat(datetime(2022,9,1+datum.value),'%d %b'), '2022'] : timeFormat(datetime(2022,9,1+datum.value),'%d %b')"}},
     "y": {"field": "v", "type": "quantitative", "title": null, "scale": {"domain": [0, 250], "range": [79, 6], "nice": false}, "axis": {"values": [0,50,100,150,200,250], "offset": -16.7}}},
   "layer": [
    {"data": {"values": [
      {"s":"a","t":0,"v":26},{"s":"a","t":3.3,"v":30},{"s":"a","t":6.7,"v":35},{"s":"a","t":10,"v":38},{"s":"a","t":13.3,"v":41},{"s":"a","t":16.7,"v":60},{"s":"a","t":20,"v":52},{"s":"a","t":23.3,"v":45},{"s":"a","t":26.7,"v":38},{"s":"a","t":30,"v":41},{"s":"a","t":33.3,"v":52},{"s":"a","t":36.7,"v":60},{"s":"a","t":40,"v":70},{"s":"a","t":43.3,"v":73},{"s":"a","t":45,"v":75},{"s":"a","t":48.3,"v":58},{"s":"a","t":51.7,"v":70},{"s":"a","t":55,"v":83},{"s":"a","t":58.3,"v":75},{"s":"a","t":61.7,"v":70},{"s":"a","t":65,"v":60},{"s":"a","t":68.3,"v":52},{"s":"a","t":73.3,"v":47},{"s":"a","t":78.3,"v":58},{"s":"a","t":81.7,"v":64},{"s":"a","t":85,"v":70},{"s":"a","t":88.3,"v":67},{"s":"a","t":91.7,"v":70},{"s":"a","t":95,"v":79},{"s":"a","t":98.3,"v":81},{"s":"a","t":101.7,"v":79},{"s":"a","t":105,"v":87},{"s":"a","t":108.3,"v":98},{"s":"a","t":111.7,"v":106},{"s":"a","t":115,"v":115},{"s":"a","t":118.3,"v":121},{"s":"a","t":121.7,"v":127},{"s":"a","t":125,"v":115},{"s":"a","t":128.3,"v":109},{"s":"a","t":131.7,"v":115},{"s":"a","t":135,"v":121},{"s":"a","t":138.3,"v":124},{"s":"a","t":141.7,"v":115},{"s":"a","t":145,"v":102},{"s":"a","t":148.3,"v":87},{"s":"a","t":151.7,"v":70},{"s":"a","t":155,"v":75},{"s":"a","t":158.3,"v":72},{"s":"a","t":161.7,"v":67},{"s":"a","t":165,"v":58},{"s":"a","t":170,"v":52},{"s":"a","t":175,"v":41},{"s":"a","t":178.3,"v":35},{"s":"a","t":183.3,"v":30},{"s":"a","t":188.3,"v":26},{"s":"a","t":193.3,"v":24},{"s":"a","t":198.3,"v":21},{"s":"a","t":203.3,"v":18},{"s":"a","t":208.3,"v":15},{"s":"a","t":213.3,"v":13},{"s":"a","t":218.3,"v":13},{"s":"a","t":223.3,"v":10},{"s":"a","t":228.3,"v":7},{"s":"a","t":233.3,"v":9},{"s":"a","t":238.3,"v":7},{"s":"a","t":241.7,"v":7},
      {"s":"b","t":0,"v":30},{"s":"b","t":1.7,"v":75},{"s":"b","t":3.3,"v":38},{"s":"b","t":6.7,"v":41},{"s":"b","t":10,"v":45},{"s":"b","t":13.3,"v":52},{"s":"b","t":15.7,"v":70},{"s":"b","t":17.7,"v":166},{"s":"b","t":20,"v":70},{"s":"b","t":23.3,"v":58},{"s":"b","t":26.7,"v":64},{"s":"b","t":27.7,"v":140},{"s":"b","t":30,"v":58},{"s":"b","t":33.3,"v":67},{"s":"b","t":36.7,"v":75},{"s":"b","t":40,"v":78},{"s":"b","t":43.3,"v":81},{"s":"b","t":45,"v":136},{"s":"b","t":48.3,"v":79},{"s":"b","t":51.7,"v":83},{"s":"b","t":55,"v":92},{"s":"b","t":58.3,"v":87},{"s":"b","t":61.7,"v":109},{"s":"b","t":65,"v":87},{"s":"b","t":68.3,"v":102},{"s":"b","t":71.7,"v":106},{"s":"b","t":75,"v":117},{"s":"b","t":78.3,"v":102},{"s":"b","t":81.7,"v":87},{"s":"b","t":85,"v":115},{"s":"b","t":88.3,"v":121},{"s":"b","t":91.7,"v":113},{"s":"b","t":93.3,"v":92},{"s":"b","t":95.7,"v":127},{"s":"b","t":98.3,"v":115},{"s":"b","t":101.7,"v":109},{"s":"b","t":103.3,"v":79},{"s":"b","t":105,"v":98},{"s":"b","t":108.3,"v":92},{"s":"b","t":111.7,"v":138},{"s":"b","t":115,"v":144},{"s":"b","t":118.3,"v":136},{"s":"b","t":121.7,"v":127},{"s":"b","t":124.3,"v":121},{"s":"b","t":126,"v":216},{"s":"b","t":128.3,"v":117},{"s":"b","t":130.3,"v":241},{"s":"b","t":131.7,"v":121},{"s":"b","t":135,"v":115},{"s":"b","t":138.3,"v":127},{"s":"b","t":141.7,"v":109},{"s":"b","t":145,"v":102},{"s":"b","t":148.3,"v":149},{"s":"b","t":150,"v":102},{"s":"b","t":151.7,"v":92},{"s":"b","t":155,"v":81},{"s":"b","t":158.3,"v":72},{"s":"b","t":161.7,"v":66},{"s":"b","t":165,"v":58},{"s":"b","t":168.3,"v":52},{"s":"b","t":171.7,"v":47},{"s":"b","t":175,"v":41},{"s":"b","t":178.3,"v":35},{"s":"b","t":181.7,"v":33},{"s":"b","t":185,"v":29},{"s":"b","t":188.3,"v":24},{"s":"b","t":191.7,"v":22},{"s":"b","t":195,"v":24},{"s":"b","t":198.3,"v":24},{"s":"b","t":201.7,"v":18},{"s":"b","t":205,"v":21},{"s":"b","t":208.3,"v":15},{"s":"b","t":211.7,"v":17},{"s":"b","t":215,"v":24},{"s":"b","t":218.3,"v":18},{"s":"b","t":221.7,"v":22},{"s":"b","t":225,"v":72},{"s":"b","t":226.7,"v":30},{"s":"b","t":228.3,"v":24},{"s":"b","t":231.7,"v":18},{"s":"b","t":235,"v":24},{"s":"b","t":238.3,"v":18},{"s":"b","t":241.7,"v":15}
     ]},
     "mark": {"type": "line", "strokeWidth": 0.8},
     "encoding": {"color": {"field": "s", "type": "nominal", "scale": {"domain": ["a","b"], "range": ["#6ca6dc","#f4a062"]}, "legend": {"orient": "none", "legendX": 263, "legendY": 5, "title": null, "labelFontSize": 3, "labelExpr": "datum.label == 'a' ? 'Real' : 'Estimado'"}}}},
    {"data": {"values": [{"t": 45, "v": 136}]}, "layer": [
     {"mark": {"type": "tick", "orient": "horizontal", "size": 23, "thickness": 3.5, "color": "#e8772e", "opacity": 1, "xOffset": 13.3}},
     {"mark": {"type": "text", "fontSize": 2.5, "color": "white", "dx": 13.3}, "encoding": {"text": {"value": "15 nov 2022: 136"}}},
     {"mark": {"type": "text", "fontSize": 3, "color": "#777777", "align": "left", "dx": 26}, "encoding": {"text": {"value": "Estimado"}}}
    ]}
   ]},
  {"width": 1, "height": 55, "data": {"values": []}, "mark": "point"},
  {"width": 290, "height": 12, "data": {"name": "btnP5"},
   "layer": [
    {"transform": [{"filter": "datum.r == 1"}], "encoding": {"x": {"field": "k", "type": "nominal", "sort": null, "scale": {"type": "band", "range": [117, 173], "paddingInner": 0.08, "paddingOuter": 0}, "axis": null}, "y": {"field": "r", "type": "ordinal", "scale": {"type": "band", "domain": [1, 2], "range": [1, 11.5], "paddingInner": 0.56, "paddingOuter": 0}, "axis": null}},
     "layer": [
      {"mark": {"type": "rect", "cornerRadius": 0.4}, "encoding": {"color": {"field": "c", "type": "nominal", "scale": {"domain": ["cyan","lgray","yellow","green","dgray"], "range": ["#45c5ec","#a9a9a9","#f2c232","#358a5a","#6b6b6b"]}, "legend": null}}},
      {"mark": {"type": "text", "fontSize": 2.4, "color": "white", "limit": 13}, "encoding": {"text": {"field": "t"}}}
     ]},
    {"transform": [{"filter": "datum.r == 2"}], "encoding": {"x": {"field": "k", "type": "nominal", "sort": null, "scale": {"type": "band", "range": [115, 175], "paddingInner": 0.08, "paddingOuter": 0}, "axis": null}, "y": {"field": "r", "type": "ordinal", "scale": {"type": "band", "domain": [1, 2], "range": [1, 11.5], "paddingInner": 0.56, "paddingOuter": 0}, "axis": null}},
     "layer": [
      {"mark": {"type": "rect", "cornerRadius": 0.4}, "encoding": {"color": {"field": "c", "type": "nominal", "scale": {"domain": ["cyan","lgray","yellow","green","dgray"], "range": ["#45c5ec","#a9a9a9","#f2c232","#358a5a","#6b6b6b"]}, "legend": null}}},
      {"mark": {"type": "text", "fontSize": 2.4, "color": "white", "limit": 11}, "encoding": {"text": {"field": "t"}}}
     ]}
   ],
   "resolve": {"scale": {"x": "independent"}}},
  {"bounds": "flush", "spacing": 0, "hconcat": [
   {"width": 218, "height": 21, "view": {"fill": "#f2f2f2", "stroke": "#c8c8c8"}, "title": {"text": "Seleccionar EXPEDICIÓN", "offset": -5.5},
    "data": {"values": [{"c":0,"r":0,"t":"Puerta 1"},{"c":0,"r":1,"t":"Estado 1"},{"c":0,"r":2,"t":"Ruta / Cliente Destino"},{"c":0,"r":3,"t":"Puerta 1 (% Apertura)"},{"c":1,"r":0,"t":"Puerta 2"},{"c":1,"r":1,"t":"Estado 2"},{"c":1,"r":2,"t":"Puerta 2 (% Apertura)"},{"c":1,"r":3,"t":"Cadena de frío 2"},{"c":2,"r":0,"t":"Puerta 3"},{"c":2,"r":1,"t":"Estado 3"},{"c":2,"r":2,"t":"Puerta 3 (% Apertura)"},{"c":2,"r":3,"t":"Puerta 3 / Cadena de frío 3","dot":true},{"c":3,"r":0,"t":"Puerta 4"},{"c":3,"r":1,"t":"Estado 4"},{"c":3,"r":2,"t":"Puerta 4 (% Apertura)"}]},
    "encoding": {"x": {"field": "c", "type": "ordinal", "scale": {"type": "point", "domain": [0,1,2,3], "range": [31, 192], "padding": 0}, "axis": null}, "y": {"field": "r", "type": "ordinal", "scale": {"type": "point", "domain": [0,1,2,3], "range": [9.3, 19.3], "padding": 0}, "axis": null}},
    "layer": [
     {"mark": {"type": "text", "fontSize": 3, "color": "#555555"}, "encoding": {"text": {"field": "t"}}},
     {"transform": [{"filter": "datum.dot"}], "mark": {"type": "circle", "size": 6, "opacity": 1, "color": "#3b7fdd", "xOffset": -26}}
    ]},
   {"width": 72, "height": 21, "view": {"fill": "#f2f2f2", "stroke": "#c8c8c8"}, "title": {"text": "Seleccionar FECHA", "offset": -5.5},
    "data": {"values": [{"k":"a","r":0,"t":"Desde  03/07/2023  ▴▾"},{"k":"a","r":1,"t":"Hasta  19/07/2023  ▴▾"}]},
    "mark": {"type": "text", "fontSize": 3, "color": "#555555"},
    "encoding": {"x": {"field": "k", "type": "nominal", "scale": {"type": "point"}, "axis": null}, "y": {"field": "r", "type": "ordinal", "scale": {"type": "point", "domain": [0,1], "range": [8, 12.7], "padding": 0}, "axis": null}, "text": {"field": "t"}}}
  ]},
  {"width": 1, "height": 21, "data": {"values": []}, "mark": "point"},
  {"width": 290, "height": 75,
   "data": {"values": [{"d":"03/07","v":100},{"d":"04/07","v":100},{"d":"05/07","v":100},{"d":"06/07","v":100},{"d":"07/07","v":100},{"d":"08/07","v":0},{"d":"10/07","v":100},{"d":"11/07","v":100},{"d":"12/07","v":100},{"d":"13/07","v":100},{"d":"14/07","v":100},{"d":"15/07","v":100},{"d":"17/07","v":100},{"d":"18/07","v":100},{"d":"19/07","v":100}]},
   "encoding": {"x": {"field": "d", "type": "ordinal", "sort": null, "title": null, "scale": {"range": [17, 253], "paddingInner": 0.2, "paddingOuter": 0.1}, "axis": {"values": ["04/07","06/07","08/07","11/07","13/07","15/07","18/07"], "labelAngle": 0, "labelExpr": "datum.value == '04/07' ? [datum.value, '2023'] : datum.value"}},
     "y": {"field": "v", "type": "quantitative", "title": null, "scale": {"domain": [0, 100], "range": [75, 1.7], "nice": false}, "axis": {"values": [0,20,40,60,80,100], "offset": -17}}},
   "layer": [
    {"mark": {"type": "bar", "color": "#2f75b5"}},
    {"transform": [{"filter": "datum.d == '19/07'"}], "layer": [
     {"mark": {"type": "tick", "orient": "horizontal", "size": 20, "thickness": 3.5, "color": "#3a78c2", "opacity": 1, "xOffset": 18}},
     {"mark": {"type": "text", "fontSize": 2.5, "color": "white", "dx": 18}, "encoding": {"text": {"value": "19/07: 100 %"}}}
    ]}
   ]}
 ]}
]
}
